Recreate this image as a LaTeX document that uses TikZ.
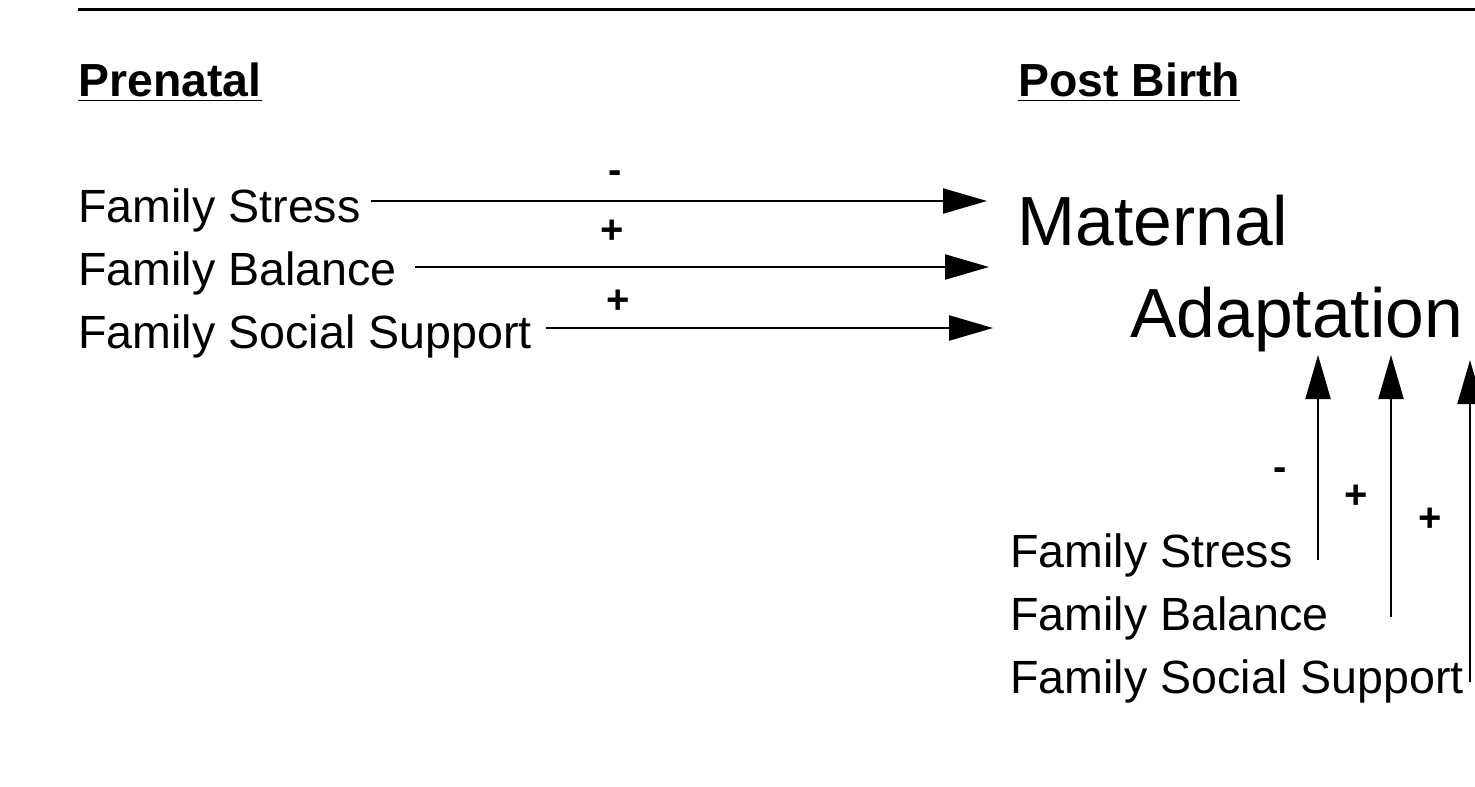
\documentclass[tikz,border=0pt]{standalone}
\usepackage{fontspec}
\setmainfont{Liberation Sans}
\usetikzlibrary{arrows.meta}
\begin{document}
\begin{tikzpicture}[x=0.5pt,y=-0.5pt,
  lbl/.style={anchor=base west,inner sep=0pt,font=\fontsize{23.3pt}{26pt}\selectfont},
  head/.style={anchor=base west,inner sep=0pt,font=\fontsize{23.2pt}{26pt}\selectfont\bfseries},
  big/.style={anchor=base west,inner sep=0pt,font=\fontsize{34.8pt}{40pt}\selectfont},
  sgn/.style={inner sep=0pt,font=\fontsize{20pt}{22pt}\selectfont\bfseries},
  arr/.style={line width=1.1pt,-{Triangle[length=22pt,width=12.5pt]}},
  rule/.style={line width=1.5pt}]
\useasboundingbox (0,0) rectangle (1475,786);
% top rule
\coordinate (r0) at (78,10);
\coordinate (r1) at (1480,10);
\draw[rule] (r0) -- (r1);
% headings
\node[head] (pre) at (78,97) {\underline{Prenatal}};
\node[head] (post) at (1018,97) {\underline{Post Birth}};
% prenatal factors
\node[lbl] (fs) at (78,222) {Family Stress};
\node[lbl] (fb) at (78,285) {Family Balance};
\node[lbl] (fss) at (78,348) {Family Social Support};
% outcome
\node[big] (mat) at (1017,245) {Maternal};
\node[big] (adp) at (1130,337) {Adaptation};
% horizontal arrow tips
\coordinate (t1) at (987,201);
\coordinate (t2) at (989,267);
\coordinate (t3) at (993,328);
\draw[arr] (fs.base east) ++(10,-21) -- (t1);
\draw[arr] (fb.base east) ++(18,-18) -- (t2);
\draw[arr] (fss.base east) ++(14,-20) -- (t3);
\node[sgn] (m1) at (615,177) {-};
\node[sgn] (p1) at (612,232) {+};
\node[sgn] (p2) at (618,302) {+};
% post birth factors
\node[lbl] (rs) at (1010,567) {Family Stress};
\node[lbl] (rb) at (1010,630) {Family Balance};
\node[lbl] (rss) at (1010,693) {Family Social Support};
% vertical arrow tips
\coordinate (u1) at (1318,355);
\coordinate (u2) at (1391,355);
\coordinate (u3) at (1470,360);
\draw[arr] (rs.base east -| u1) ++(0,-7) -- (u1);
\draw[arr] (rb.base east -| u2) ++(0,-13) -- (u2);
\draw[arr] (rss.base east -| u3) ++(0,-11) -- (u3);
\node[sgn] (m2) at (1280,474) {-};
\node[sgn] (p3) at (1356,497) {+};
\node[sgn] (p4) at (1430,520) {+};
\end{tikzpicture}
\end{document}
